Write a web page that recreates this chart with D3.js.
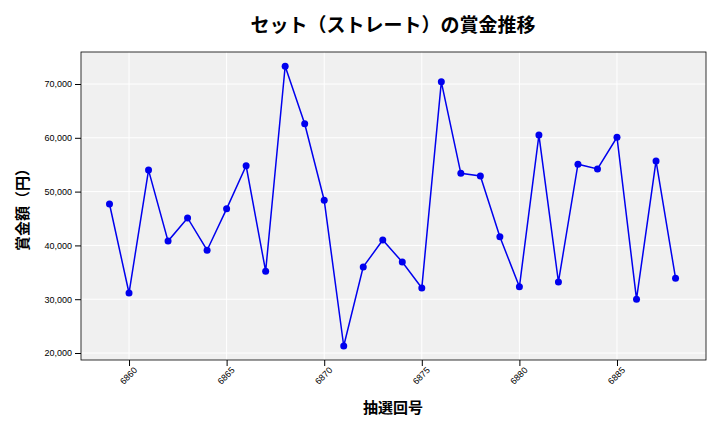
<!DOCTYPE html><html><head><meta charset="utf-8">
<script src="https://cdn.jsdelivr.net/npm/d3@7"></script>
<style>body{margin:0;background:#fff;font-family:"Noto Sans CJK JP","Noto Sans",sans-serif}</style></head><body>
<svg id="c" width="720" height="432"></svg>
<script>
const draws=d3.range(6859,6889);
const prizes=[47700,31150,54000,40800,45100,39100,46800,54800,35200,73300,62600,48400,21300,36000,41000,36900,32100,70400,53400,52900,41600,32300,60500,33200,55100,54200,60100,30000,55700,33900];
const xTicks=[6860,6865,6870,6875,6880,6885];
const yTicks=[20000,30000,40000,50000,60000,70000];
const svg=d3.select("#c");
const L=81,R=706,T=52,B=360;
const x=d3.scaleLinear().domain([6857.54,6889.56]).range([L,R]);
const y=d3.scaleLinear().domain([18700,75950]).range([B,T]);
svg.append("rect").attr("x",L).attr("y",T).attr("width",R-L).attr("height",B-T).attr("fill","#f0f0f0");
svg.append("g").selectAll("line").data(xTicks).join("line").attr("x1",d=>x(d)).attr("x2",d=>x(d)).attr("y1",T).attr("y2",B).attr("stroke","#fff");
svg.append("g").selectAll("line").data(yTicks).join("line").attr("y1",d=>y(d)).attr("y2",d=>y(d)).attr("x1",L).attr("x2",R).attr("stroke","#fff");
svg.append("rect").attr("x",L).attr("y",T).attr("width",R-L).attr("height",B-T).attr("fill","none").attr("stroke","#000").attr("stroke-width",0.8);
const xa=svg.append("g").attr("transform",`translate(0,${B})`).call(d3.axisBottom(x).tickValues(xTicks).tickFormat(d3.format("d")).tickSizeOuter(0));
xa.select(".domain").remove();
xa.selectAll("text").attr("transform","rotate(-45)").attr("text-anchor","end").attr("dx","-0.2em").attr("dy","0.5em").style("font-size","9px");
const ya=svg.append("g").attr("transform",`translate(${L},0)`).call(d3.axisLeft(y).tickValues(yTicks).tickFormat(d3.format(",")).tickSizeOuter(0));
ya.select(".domain").remove();
ya.selectAll("text").style("font-size","9px");
const line=d3.line().x((d,i)=>x(draws[i])).y(d=>y(d));
svg.append("path").datum(prizes).attr("d",line).attr("fill","none").attr("stroke","#0000ee").attr("stroke-width",1.5);
svg.append("g").selectAll("circle").data(prizes).join("circle").attr("cx",(d,i)=>x(draws[i])).attr("cy",d=>y(d)).attr("r",3.5).attr("fill","#0000ee");
svg.append("text").attr("x",393).attr("y",32).attr("text-anchor","middle").style("font-size","19px").style("font-weight","bold").text("セット（ストレート）の賞金推移");
svg.append("text").attr("x",393).attr("y",413).attr("text-anchor","middle").style("font-size","15px").style("font-weight","bold").text("抽選回号");
svg.append("text").attr("transform","translate(28,206) rotate(-90)").attr("text-anchor","middle").style("font-size","15px").style("font-weight","bold").text("賞金額（円）");
</script></body></html>
